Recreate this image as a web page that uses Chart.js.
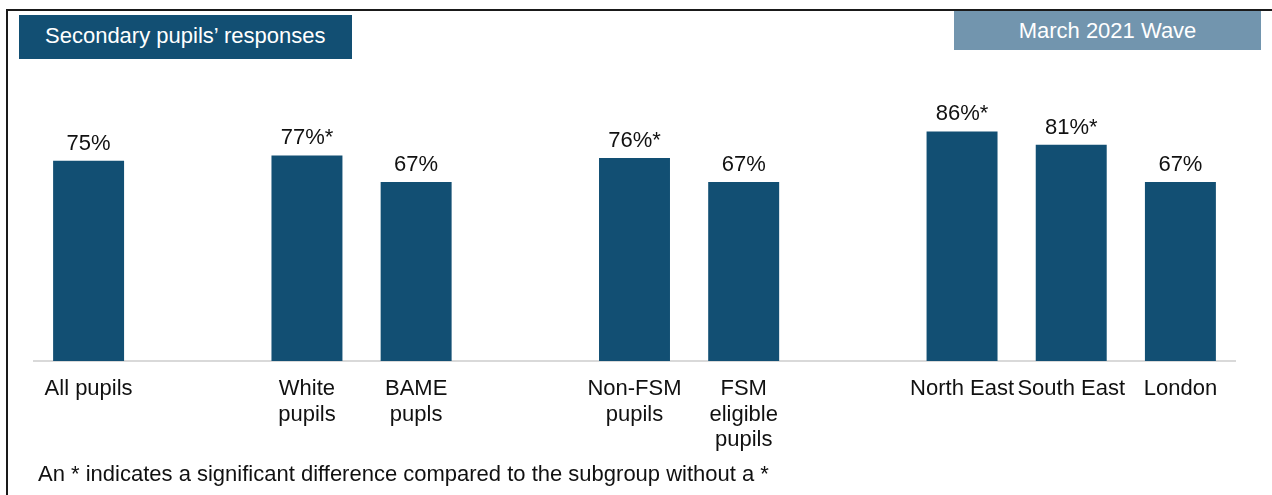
<!DOCTYPE html>
<html>
<head>
<meta charset="utf-8">
<script src="https://cdn.jsdelivr.net/npm/chart.js@4/dist/chart.umd.min.js"></script>
<style>
  html, body { margin: 0; padding: 0; background: #fff; }
  body { width: 1272px; height: 495px; position: relative; overflow: hidden; font-family: "Liberation Sans", Arial, sans-serif; }
  #wrap { position: absolute; left: 0; top: 0; width: 1272px; height: 495px; }
  .frame-top { position: absolute; left: 6px; top: 9px; width: 1266px; height: 2px; background: #1a1a1a; }
  .frame-left { position: absolute; left: 6px; top: 9px; width: 2px; height: 486px; background: #1a1a1a; }
  .box { position: absolute; color: #fff; font-size: 22px; line-height: 1; box-sizing: border-box; }
  #title { left: 19px; top: 15px; width: 333px; height: 44px; background: #124f73; padding: 10px 0 0 26px; }
  #wave { left: 954px; top: 11px; width: 307px; height: 39px; background: #7295ae; text-align: center; padding-top: 9px; }
  #note { position: absolute; left: 38px; top: 461px; font-size: 22px; color: #111; }
</style>
</head>
<body>
<div id="wrap"><canvas id="chart" width="1272" height="495"></canvas></div>
<div class="frame-top"></div>
<div class="frame-left"></div>
<div class="box" id="title">Secondary pupils’ responses</div>
<div class="box" id="wave">March 2021 Wave</div>
<div id="note">An * indicates a significant difference compared to the subgroup without a *</div>
<script>
// categories (blank slots separate the groups)
const categories = [
  ['All pupils'], '', ['White', 'pupils'], ['BAME', 'pupls'], '',
  ['Non-FSM', 'pupils'], ['FSM', 'eligible', 'pupils'], '',
  ['North East'], ['South East'], ['London']
];
const values = [75, null, 77, 67, null, 76, 67, null, 86, 81, 67];
const significant = [false, false, true, false, false, true, false, false, true, true, false];

const barColor = '#124f73';

// value labels above bars + category labels under the axis
const labelPlugin = {
  id: 'labels',
  afterDatasetsDraw(chart) {
    const ctx = chart.ctx;
    const meta = chart.getDatasetMeta(0);
    const xScale = chart.scales.x;
    ctx.save();
    ctx.fillStyle = '#111';
    ctx.textAlign = 'center';
    ctx.font = '22px "Liberation Sans", Arial, sans-serif';
    ctx.textBaseline = 'alphabetic';
    meta.data.forEach((bar, i) => {
      if (values[i] == null) return;
      const txt = values[i] + '%' + (significant[i] ? '*' : '');
      ctx.fillText(txt, bar.x, bar.y - 11);
    });
    categories.forEach((lab, i) => {
      if (!lab) return;
      const x = xScale.getPixelForValue(i);
      lab.forEach((line, j) => {
        ctx.fillText(line, x, 395 + j * 25.5);
      });
    });
    ctx.restore();
  }
};

new Chart(document.getElementById('chart'), {
  type: 'bar',
  data: {
    labels: categories.map((c, i) => 'c' + i),
    datasets: [{
      data: values,
      backgroundColor: barColor,
      barPercentage: 0.65,
      categoryPercentage: 1,
    }],
  },
  options: {
    responsive: false,
    animation: false,
    layout: { padding: { left: 34, right: 37, top: 94, bottom: 126 } },
    plugins: {
      legend: { display: false },
      tooltip: { enabled: false },
    },
    scales: {
      x: {
        grid: { display: false },
        ticks: { display: false },
        border: { color: '#d9d9d9', width: 2 },
      },
      y: {
        display: false,
        min: 0,
        max: 100,
      },
    },
  },
  plugins: [labelPlugin],
});
</script>
</body>
</html>
